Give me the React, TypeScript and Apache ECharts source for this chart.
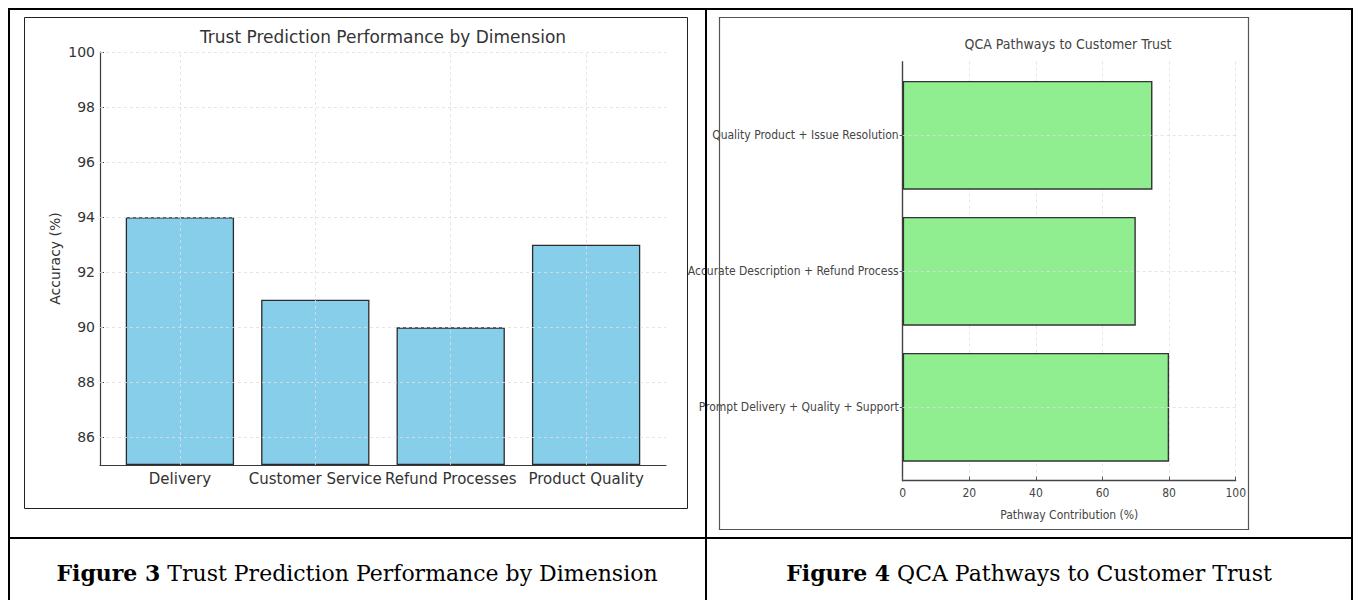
import React, { useEffect, useRef } from 'react';
import * as echarts from 'echarts';

// ---------- data ----------
const leftTitle = 'Trust Prediction Performance by Dimension';
const leftCategories = ['Delivery', 'Customer Service', 'Refund Processes', 'Product Quality'];
const leftValues = [94, 91, 90, 93];
const leftTicks = [86, 88, 90, 92, 94, 96, 98, 100];
const leftYName = 'Accuracy (%)';

const rightTitle = 'QCA Pathways to Customer Trust';
const rightCategories = [
  'Prompt Delivery + Quality + Support',
  'Accurate Description + Refund Process',
  'Quality Product + Issue Resolution',
];
const rightValues = [80, 70, 75];
const rightXName = 'Pathway Contribution (%)';

const caption3 = ['Figure 3', 'Trust Prediction Performance by Dimension'];
const caption4 = ['Figure 4', 'QCA Pathways to Customer Trust'];

// ---------- styles ----------
const SANS = "'DejaVu Sans', sans-serif";
const NARROW = "'Liberation Sans Narrow', 'DejaVu Sans Condensed', 'Liberation Sans', sans-serif";
const SERIF = "'DejaVu Serif', serif";
const gridLine = { color: '#dedede', type: [3, 3] as number[], width: 0.8 };
const axisDark = { color: '#3a3a3a', width: 1.2 };

export default function App() {
  const ref = useRef<HTMLDivElement>(null);
  useEffect(() => {
    if (!ref.current) return;
    const chart = echarts.init(ref.current, null, { renderer: 'svg' });
    const option: any = {
      animation: false,
      backgroundColor: '#ffffff',
      grid: [
        { left: 112.2, top: 52, width: 541.6, height: 413 },
        { left: 100, top: 52, width: 566, height: 413 },
        { left: 902.7, top: 67.3, width: 333, height: 408 },
        { left: 902.7, top: 61.7, width: 333, height: 419 },
      ],
      xAxis: [
        {
          gridIndex: 0, type: 'category', data: leftCategories,
          axisLine: { show: false },
          axisTick: { show: true, alignWithLabel: true, inside: true, length: 4, lineStyle: { color: '#444' } },
          axisLabel: { interval: 0, hideOverlap: false, margin: 6, fontSize: 15, color: '#333', fontFamily: SANS },
          splitLine: { show: false },
        },
        {
          gridIndex: 1, type: 'value', min: 0, max: 1,
          axisLine: { show: true, onZero: false, lineStyle: axisDark },
          axisTick: { show: false }, axisLabel: { show: false }, splitLine: { show: false },
        },
        { gridIndex: 2, type: 'value', min: 0, max: 100, show: false },
        {
          gridIndex: 3, type: 'value', min: 0, max: 100, interval: 20,
          axisLine: { show: true, onZero: false, lineStyle: { color: '#444', width: 1.4 } },
          axisTick: { show: true, inside: true, length: 4, lineStyle: { color: '#555' } },
          axisLabel: { margin: 6, fontSize: 12, color: '#444', fontFamily: NARROW },
          splitLine: { show: true, lineStyle: gridLine },
          name: rightXName, nameLocation: 'middle', nameGap: 28,
          nameTextStyle: { fontSize: 12, color: '#444', fontFamily: NARROW },
        },
      ],
      yAxis: [
        { gridIndex: 0, type: 'value', min: 85, max: 100, startValue: 85, show: false },
        {
          gridIndex: 1, type: 'value', min: 85, max: 100,
          axisLine: { show: true, onZero: false, lineStyle: axisDark },
          axisTick: { show: true, inside: true, length: 4, customValues: leftTicks, lineStyle: { color: '#444' } },
          axisLabel: { customValues: leftTicks, margin: 5, fontSize: 14, color: '#333', fontFamily: SANS },
          splitLine: { show: false },
          name: leftYName, nameLocation: 'middle', nameGap: 38,
          nameTextStyle: { fontSize: 14, color: '#333', fontFamily: SANS },
        },
        {
          gridIndex: 2, type: 'category', data: rightCategories,
          axisLine: { show: false },
          axisTick: { show: true, alignWithLabel: true, length: 3, lineStyle: { color: '#555' } },
          axisLabel: { interval: 0, margin: 4, fontSize: 12, color: '#444', fontFamily: NARROW },
          splitLine: { show: false },
        },
        {
          gridIndex: 3, type: 'value', min: 0, max: 1,
          axisLine: { show: true, onZero: false, lineStyle: { color: '#444', width: 1.4 } },
          axisTick: { show: false }, axisLabel: { show: false }, splitLine: { show: false },
        },
      ],
      series: [
        {
          type: 'bar', xAxisIndex: 0, yAxisIndex: 0, data: leftValues,
          barCategoryGap: '20%',
          itemStyle: { color: '#87CEEB', borderColor: '#2b2b2b', borderWidth: 1.3 },
          markLine: {
            silent: true, symbol: ['none', 'none'], label: { show: false },
            lineStyle: gridLine, animation: false,
            data: leftCategories.map((c) => ({ xAxis: c })),
          },
        },
        {
          type: 'line', xAxisIndex: 1, yAxisIndex: 1, data: [[0.5, 85]],
          symbol: 'none', showSymbol: false, lineStyle: { width: 0 },
          markLine: {
            silent: true, symbol: ['none', 'none'], label: { show: false },
            lineStyle: gridLine, animation: false,
            data: leftTicks.map((v) => ({ yAxis: v })),
          },
        },
        {
          type: 'bar', xAxisIndex: 2, yAxisIndex: 2, data: rightValues,
          barCategoryGap: '20%',
          itemStyle: { color: '#90EE90', borderColor: '#333', borderWidth: 1.4 },
          markLine: {
            silent: true, symbol: ['none', 'none'], label: { show: false },
            lineStyle: gridLine, animation: false,
            data: rightCategories.map((c) => ({ yAxis: c })),
          },
        },
      ],
      graphic: [
        // image frames
        { type: 'rect', z: 50, silent: true, shape: { x: 24.5, y: 17.5, width: 663, height: 491 }, style: { fill: 'none', stroke: '#222', lineWidth: 1 } },
        { type: 'rect', z: 50, silent: true, shape: { x: 719.5, y: 17.5, width: 529, height: 512 }, style: { fill: 'none', stroke: '#555', lineWidth: 1.2 } },
        // table lines
        { type: 'line', z: 60, silent: true, shape: { x1: 8, y1: 9, x2: 1353, y2: 9 }, style: { stroke: '#000', lineWidth: 2 } },
        { type: 'line', z: 60, silent: true, shape: { x1: 9, y1: 8, x2: 9, y2: 600 }, style: { stroke: '#000', lineWidth: 2 } },
        { type: 'line', z: 60, silent: true, shape: { x1: 706, y1: 8, x2: 706, y2: 600 }, style: { stroke: '#000', lineWidth: 2 } },
        { type: 'line', z: 60, silent: true, shape: { x1: 1352, y1: 8, x2: 1352, y2: 600 }, style: { stroke: '#000', lineWidth: 2 } },
        { type: 'line', z: 60, silent: true, shape: { x1: 8, y1: 538, x2: 1353, y2: 538 }, style: { stroke: '#000', lineWidth: 2 } },
        // chart titles
        { type: 'text', z: 60, silent: true, x: 383, y: 37, style: { text: leftTitle, fontSize: 17, fontFamily: SANS, fill: '#333', align: 'center', verticalAlign: 'middle' } },
        { type: 'text', z: 60, silent: true, x: 1068, y: 44, style: { text: rightTitle, fontSize: 14, fontFamily: NARROW, fill: '#444', align: 'center', verticalAlign: 'middle' } },
        // captions
        {
          type: 'text', z: 60, silent: true, x: 357, y: 573,
          style: {
            text: `{b|${caption3[0]}} ${caption3[1]}`, fontSize: 22, fontFamily: SERIF, fill: '#000', align: 'center', verticalAlign: 'middle',
            rich: { b: { fontSize: 22, fontFamily: SERIF, fontWeight: 'bold', fill: '#000' } },
          },
        },
        {
          type: 'text', z: 60, silent: true, x: 1029, y: 573,
          style: {
            text: `{b|${caption4[0]}} ${caption4[1]}`, fontSize: 22, fontFamily: SERIF, fill: '#000', align: 'center', verticalAlign: 'middle',
            rich: { b: { fontSize: 22, fontFamily: SERIF, fontWeight: 'bold', fill: '#000' } },
          },
        },
      ],
    };
    chart.setOption(option);
    return () => chart.dispose();
  }, []);
  return <div ref={ref} style={{ position: 'absolute', left: 0, top: 0, width: 1354, height: 600 }} />;
}
